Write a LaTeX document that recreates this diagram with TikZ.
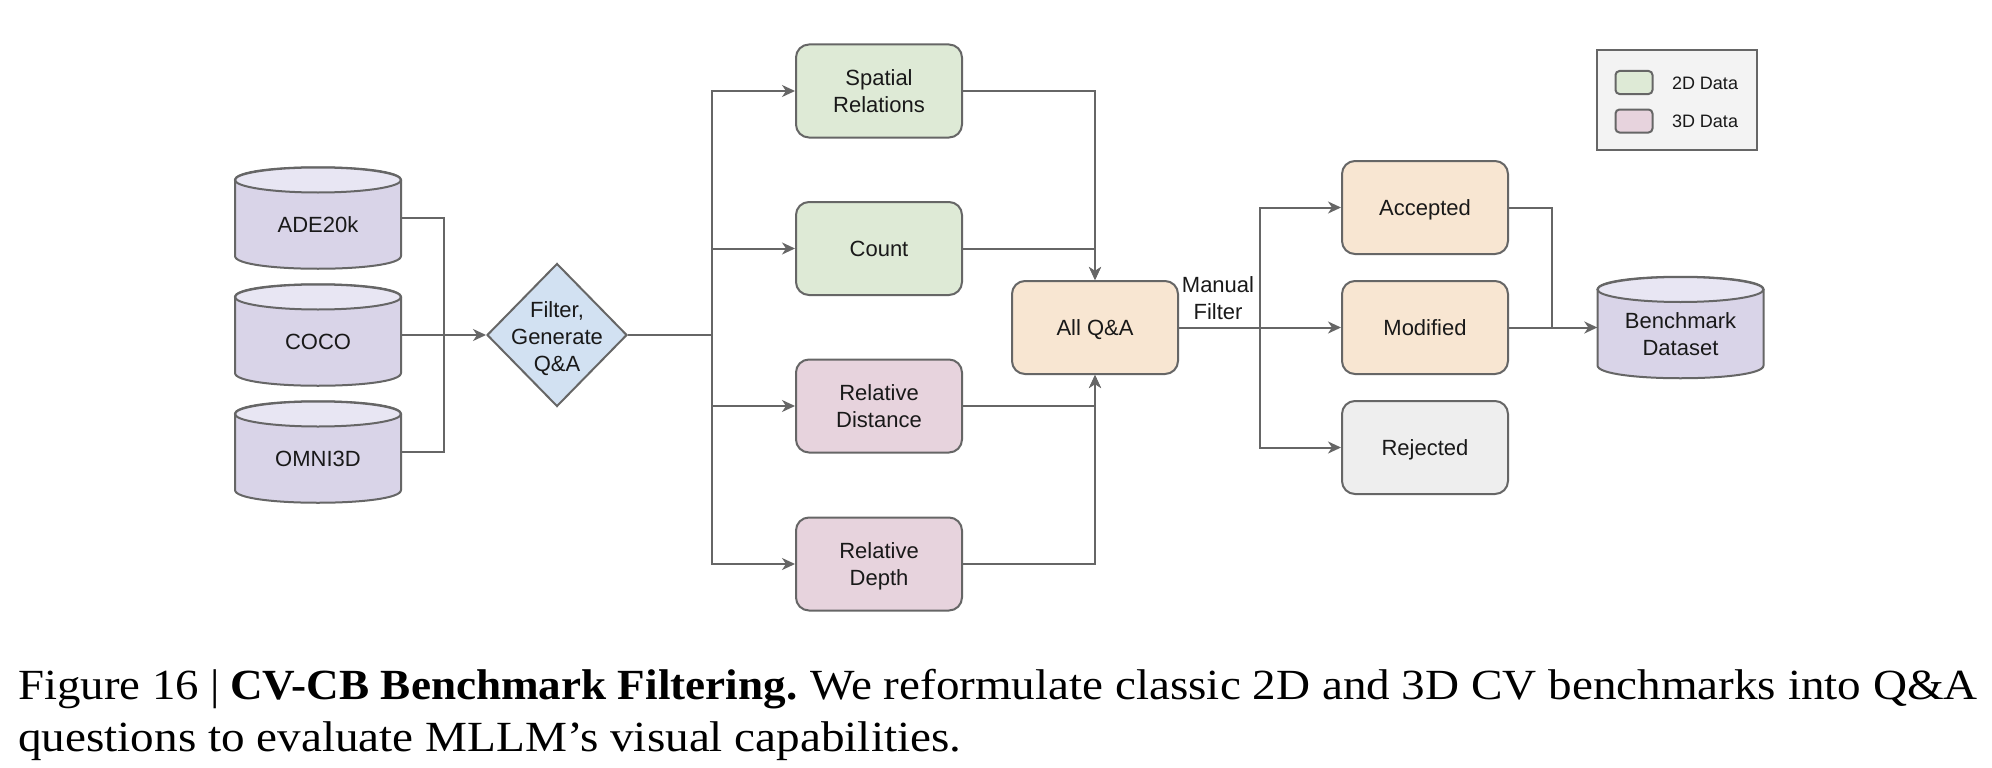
\documentclass[tikz,border=0pt]{standalone}
\usepackage{fontspec}
\setmainfont{Liberation Serif}
\newfontfamily\diagfont{Liberation Sans}
\usetikzlibrary{shapes.geometric,arrows.meta}
\definecolor{lnc}{HTML}{666666}
\definecolor{cylside}{HTML}{D9D4E8}
\definecolor{cyltop}{HTML}{E8E6F3}
\definecolor{diafill}{HTML}{D2E1F2}
\definecolor{greenf}{HTML}{DEEAD6}
\definecolor{pinkf}{HTML}{E7D3DD}
\definecolor{peachf}{HTML}{F8E6D2}
\definecolor{greyf}{HTML}{EEEEEE}
\definecolor{legf}{HTML}{F3F3F3}
\newcommand{\ls}{\rule[-5pt]{0pt}{26pt}}
\tikzset{
  x=1pt,y=-1pt,
  txt/.style={font=\diagfont\fontsize{22}{27}\selectfont,align=center,text=black!90,inner sep=0pt},
  stagebox/.style={txt,draw=lnc,line width=2pt,rounded corners=13pt,minimum width=166pt,minimum height=93pt},
  greenbox/.style={stagebox,fill=greenf},
  pinkbox/.style={stagebox,fill=pinkf},
  peachbox/.style={stagebox,fill=peachf},
  greybox/.style={stagebox,fill=greyf},
  swatch/.style={draw=lnc,line width=2pt,rounded corners=4pt,minimum width=37pt,minimum height=23pt,inner sep=0pt},
  legtext/.style={font=\diagfont\fontsize{18}{21}\selectfont,text=black!90,inner sep=0pt},
  conn/.style={draw=lnc,line width=2pt},
  arr/.style={conn,-{Stealth[length=13pt,width=12pt,inset=4pt]}},
  captext/.style={anchor=base west,inner sep=0pt,text=black},
}
% name, centre x, centre y, width, text
\newcommand{\cyldraw}[5]{%
  \path[fill=cylside,draw=lnc,line width=2pt]
    ({#2-#4/2},{#3-38}) -- ({#2-#4/2},{#3+38})
    .. controls ({#2-#4/2},{#3+55}) and ({#2+#4/2},{#3+55}) .. ({#2+#4/2},{#3+38})
    -- ({#2+#4/2},{#3-38})
    .. controls ({#2+#4/2},{#3-55}) and ({#2-#4/2},{#3-55}) .. ({#2-#4/2},{#3-38}) -- cycle;
  \path[fill=cyltop,draw=lnc,line width=2pt]
    ({#2},{#3-38}) ellipse [x radius=#4/2,y radius=12.5];
  \node[inner sep=0pt,minimum width=#4 pt,minimum height=100pt] (#1) at (#2,#3) {};
  \node[txt] (#1text) at (#2,{#3+6}) {#5};
}
\begin{document}
\begin{tikzpicture}
\useasboundingbox (0,0) rectangle (1992,768);
\fill[white] (0,0) rectangle (1992,768);
\cyldraw{ade}{318}{218}{166}{\ls ADE20k}
\cyldraw{coco}{318}{335}{166}{\ls COCO}
\cyldraw{omni}{318}{452}{166}{\ls OMNI3D}
\cyldraw{bench}{1680.5}{327.5}{166}{\ls Benchmark\\\ls Dataset}
\node[diamond,draw=lnc,line width=2pt,fill=diafill,aspect=1,minimum width=140pt,minimum height=143pt,inner sep=0pt] (filter) at (557,335) {};
\node[txt] (filtertext) at (557,336.5) {\ls Filter,\\\ls Generate\\\ls Q\&A};
\node[greenbox] (spatial) at (879,91) {\ls Spatial\\\ls Relations};
\node[greenbox] (count) at (879,248.5) {\ls Count};
\node[pinkbox] (dist) at (879,406) {\ls Relative\\\ls Distance};
\node[pinkbox] (depth) at (879,564) {\ls Relative\\\ls Depth};
\node[peachbox] (all) at (1095,327.5) {\ls All Q\&A};
\node[txt] (manual) at (1218,298) {\ls Manual\\\ls Filter};
\node[peachbox] (acc) at (1425,207.5) {\ls Accepted};
\node[peachbox] (mod) at (1425,327.5) {\ls Modified};
\node[greybox] (rej) at (1425,447.5) {\ls Rejected};
\node[draw=lnc,line width=2pt,fill=legf,minimum width=160pt,minimum height=99pt,inner sep=0pt] (legend) at (1676.5,100) {};
\node[swatch,fill=greenf] (s2) at (1634,82.5) {};
\node[swatch,fill=pinkf] (s3) at (1634,121) {};
\node[legtext] (l2) at (1705,83) {2D Data};
\node[legtext] (l3) at (1705,121) {3D Data};
\coordinate (jl) at (443.5,335);
\coordinate (jm) at (712,335);
\coordinate (jf) at (1260,327.5);
\coordinate (jr) at (1552,327.5);
\draw[conn] (ade.east) -| (jl);
\draw[conn] (omni.east) -| (jl);
\draw[arr] (coco.east) -- (filter.west);
\draw[conn] (filter.east) -- (jm);
\draw[arr] (jm) |- (spatial.west);
\draw[arr] (jm) |- (count.west);
\draw[arr] (jm) |- (dist.west);
\draw[arr] (jm) |- (depth.west);
\draw[arr] (spatial.east) -| (all.north);
\draw[arr] (count.east) -| (all.north);
\draw[arr] (dist.east) -| (all.south);
\draw[arr] (depth.east) -| (all.south);
\draw[arr] (all.east) -- (mod.west);
\draw[arr] (jf) |- (acc.west);
\draw[arr] (jf) |- (rej.west);
\draw[conn] (acc.east) -| (jr);
\draw[arr] (mod.east) -- (bench.west);
\node[captext] (c1) at (18,699) {\fontsize{43}{52}\selectfont\scalebox{1.089}[1]{Figure 16 |}\hspace{10pt}\scalebox{1.05}[1]{\textbf{CV-CB Benchmark Filtering.}}\hspace{13pt}\scalebox{1.096}[1]{We reformulate classic 2D and 3D CV benchmarks into Q\&A}};
\node[captext] (c2) at (18,751) {\fontsize{43}{52}\selectfont\scalebox{1.097}[1]{questions to evaluate MLLM’s visual capabilities.}};
\end{tikzpicture}
\end{document}
